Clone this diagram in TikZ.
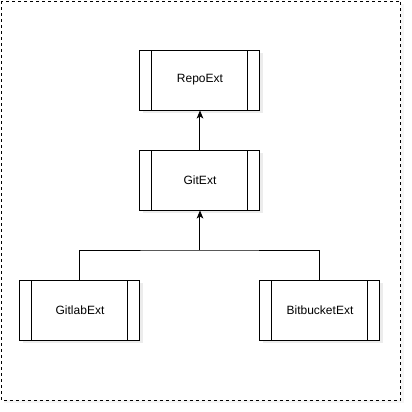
\documentclass[tikz,border=0pt]{standalone}
\usepackage{fontspec}
\setmainfont{Liberation Sans}
\usetikzlibrary{arrows.meta,shadows}
\begin{document}
\begin{tikzpicture}[x=0.75pt,y=-0.75pt,
  procbox/.style={draw=black, fill=white, minimum width=90pt, minimum height=45pt,
    inner sep=0pt, font=\fontsize{9pt}{11pt}\selectfont, line width=0.75pt,
    drop shadow={opacity=0.15, shadow xshift=2pt, shadow yshift=-2pt},
    path picture={
      \draw[line width=0.75pt] ([xshift=9pt]path picture bounding box.north west) -- ([xshift=9pt]path picture bounding box.south west);
      \draw[line width=0.75pt] ([xshift=-9pt]path picture bounding box.north east) -- ([xshift=-9pt]path picture bounding box.south east);
    }},
  conn/.style={draw=black, line width=0.75pt},
  arr/.style={conn, -{Stealth[length=6pt,width=5pt,inset=1.5pt]}}
]
\useasboundingbox (0,0) rectangle (412,412);
\draw[dash pattern=on 2.25pt off 2.25pt, line width=0.75pt,
  drop shadow={opacity=0.08, shadow xshift=2pt, shadow yshift=-2pt}, fill=white]
  (1,1) rectangle (401,400);
\node[procbox] (repo) at (200,80) {RepoExt};
\node[procbox] (git) at (200,180) {GitExt};
\node[procbox] (gitlab) at (80,310) {GitlabExt};
\node[procbox] (bit) at (320,310) {BitbucketExt};
\coordinate (j) at (200,250);
\draw[arr] (git.north) -- (repo.south);
\draw[conn] (gitlab.north) |- (j) -| (bit.north);
\draw[arr] (j) -- (git.south);
\end{tikzpicture}
\end{document}
